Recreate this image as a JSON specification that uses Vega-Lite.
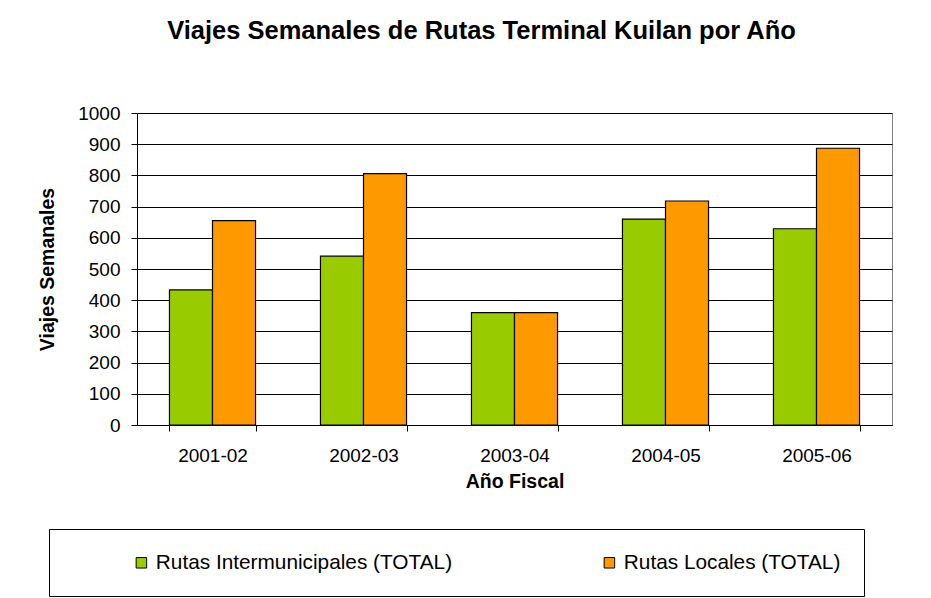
{
  "$schema": "https://vega.github.io/schema/vega-lite/v6.json",
  "width": 755,
  "height": 312,
  "autosize": {"type": "none"},
  "padding": {"left": 137, "top": 113, "right": 39, "bottom": 173},
  "background": "white",
  "title": {
    "text": "Viajes Semanales de Rutas Terminal Kuilan por Año",
    "font": "Liberation Sans",
    "fontSize": 25.5,
    "fontWeight": "bold",
    "color": "black",
    "anchor": "middle",
    "frame": "group",
    "dx": -33,
    "offset": 40,
    "baseline": "alphabetic"
  },
  "data": {
    "values": [
      {"year": "2001-02", "serie": "Rutas Intermunicipales (TOTAL)", "viajes": 433},
      {"year": "2001-02", "serie": "Rutas Locales (TOTAL)", "viajes": 655},
      {"year": "2002-03", "serie": "Rutas Intermunicipales (TOTAL)", "viajes": 541},
      {"year": "2002-03", "serie": "Rutas Locales (TOTAL)", "viajes": 806},
      {"year": "2003-04", "serie": "Rutas Intermunicipales (TOTAL)", "viajes": 360},
      {"year": "2003-04", "serie": "Rutas Locales (TOTAL)", "viajes": 360},
      {"year": "2004-05", "serie": "Rutas Intermunicipales (TOTAL)", "viajes": 660},
      {"year": "2004-05", "serie": "Rutas Locales (TOTAL)", "viajes": 718},
      {"year": "2005-06", "serie": "Rutas Intermunicipales (TOTAL)", "viajes": 629},
      {"year": "2005-06", "serie": "Rutas Locales (TOTAL)", "viajes": 887}
    ]
  },
  "mark": {"type": "bar", "stroke": "black", "strokeWidth": 1.2},
  "encoding": {
    "x": {
      "field": "year",
      "type": "nominal",
      "scale": {"paddingInner": 0.43, "paddingOuter": 0.215},
      "axis": {
        "labelAngle": 0,
        "labelFontSize": 19,
        "labelColor": "black",
        "labelPadding": 15,
        "tickBand": "extent",
        "tickSize": 6,
        "tickColor": "black",
        "domainColor": "black",
        "grid": false,
        "title": "Año Fiscal",
        "titleFontSize": 19.5,
        "titleFontWeight": "bold",
        "titleColor": "black",
        "titleBaseline": "alphabetic",
        "titleY": 62
      }
    },
    "xOffset": {"field": "serie", "type": "nominal", "sort": ["Rutas Intermunicipales (TOTAL)", "Rutas Locales (TOTAL)"]},
    "y": {
      "field": "viajes",
      "type": "quantitative",
      "scale": {"domain": [0, 1000], "nice": false},
      "axis": {
        "values": [0, 100, 200, 300, 400, 500, 600, 700, 800, 900, 1000],
        "format": "d",
        "labelFontSize": 19,
        "labelColor": "black",
        "labelPadding": 11,
        "tickSize": 6,
        "tickColor": "black",
        "domainColor": "black",
        "gridColor": "black",
        "gridWidth": 1,
        "title": "Viajes Semanales",
        "titleFontSize": 19.5,
        "titleFontWeight": "bold",
        "titleColor": "black",
        "titleAngle": 270,
        "titleAlign": "center",
        "titleBaseline": "alphabetic",
        "titleX": -84,
        "titleY": 156
      }
    },
    "color": {
      "field": "serie",
      "type": "nominal",
      "scale": {
        "domain": ["Rutas Intermunicipales (TOTAL)", "Rutas Locales (TOTAL)"],
        "range": ["#99CC00", "#FF9900"]
      },
      "legend": {
        "orient": "none",
        "legendX": -88,
        "legendY": 416,
        "direction": "horizontal",
        "columns": 2,
        "gridAlign": "all",
        "title": null,
        "strokeColor": "black",
        "fillColor": "white",
        "padding": 23,
        "symbolType": "square",
        "symbolSize": 110,
        "symbolStrokeColor": "black",
        "symbolStrokeWidth": 1,
        "symbolOpacity": 1,
        "symbolOffset": 59,
        "labelOffset": 4,
        "labelFontSize": 20.8,
        "labelColor": "black",
        "labelLimit": 0,
        "columnPadding": 87
      }
    }
  },
  "config": {
    "font": "Liberation Sans",
    "view": {"stroke": "#808080", "strokeWidth": 1}
  }
}
